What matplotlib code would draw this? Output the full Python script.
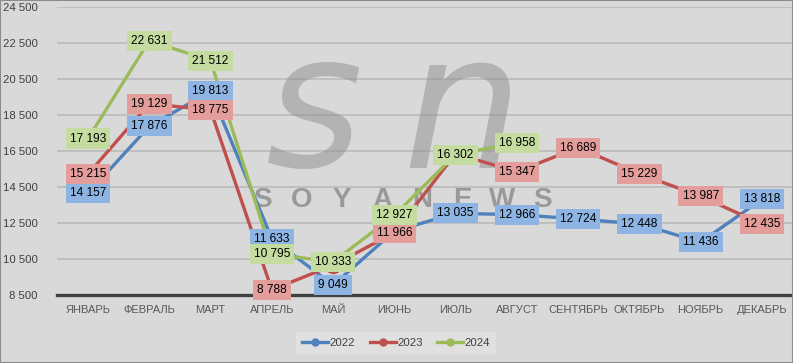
import matplotlib.pyplot as plt
import numpy as np
from matplotlib.lines import Line2D
from matplotlib.patches import Rectangle

months = ['ЯНВАРЬ', 'ФЕВРАЛЬ', 'МАРТ', 'АПРЕЛЬ', 'МАЙ', 'ИЮНЬ',
          'ИЮЛЬ', 'АВГУСТ', 'СЕНТЯБРЬ', 'ОКТЯБРЬ', 'НОЯБРЬ', 'ДЕКАБРЬ']
y2022 = [14157, 17876, 19813, 11633, 9049, 12050, 13035, 12966, 12724, 12448, 11436, 13818]
y2023 = [15215, 19129, 18775, 8788, 10150, 11966, 16350, 15347, 16689, 15229, 13987, 12435]
y2024 = [17193, 22631, 21512, 10795, 10333, 12927, 16302, 16958]
# labels that are hidden in the original (covered by other labels)
hide_2022 = [5]
hide_2023 = [4, 6]
yticks = list(range(8500, 24501, 2000))

plt.rcParams['font.family'] = ['Liberation Sans', 'DejaVu Sans']

W, H = 793, 363
fig = plt.figure(figsize=(W / 100, H / 100), dpi=100, facecolor='#d9d9d9')
ax = fig.add_axes([57.4 / W, 1 - 295 / H, 735.2 / W, 288 / H])
ax.set_facecolor('#d9d9d9')

# watermark (semi-transparent, behind the lines)
ax.text(314 / W, 1 - 166 / H, 's', transform=fig.transFigure, fontsize=134,
        style='italic', family='DejaVu Sans', color='#8e8e8e', alpha=0.5,
        ha='center', va='baseline', zorder=2)
ax.text(462 / W, 1 - 168 / H, 'n', transform=fig.transFigure, fontsize=136,
        style='italic', family='DejaVu Sans', color='#8e8e8e', alpha=0.5,
        ha='center', va='baseline', zorder=2)
for i, ch in enumerate('SOYANEWS'):
    ax.text((262 + 40 * i) / W, 1 - 200 / H, ch, transform=fig.transFigure,
            fontsize=20, weight='bold', color='#6f6f6f', alpha=0.6,
            ha='center', va='center', zorder=2)

x = np.arange(len(months))
series = [
    ('2022', y2022, '#4f81bd', '#8db4e2', hide_2022),
    ('2023', y2023, '#c0504d', '#e39d9b', hide_2023),
    ('2024', y2024, '#9bbb59', '#c4dca0', []),
]

handles = []
for name, vals, col, boxcol, hide in series:
    xs = x[:len(vals)]
    ax.plot(xs, vals, color=col, lw=2.4, zorder=3, solid_capstyle='round')
    ax.plot(xs, vals, ls='none', marker='o', ms=11.5, color=col, zorder=4)
    for i, v in enumerate(vals):
        if i in hide:
            continue
        ax.text(i, v, f'{v:,}'.replace(',', ' '), ha='center', va='center',
                fontsize=8.6, color='black', zorder=5,
                bbox=dict(boxstyle='square,pad=0.34', fc=boxcol, ec='none'))
    handles.append(Line2D([], [], color=col, lw=2.4, marker='o', ms=5, label=name))

ax.set_xlim(-0.5, 11.5)
ax.set_ylim(8500, 24500)
ax.set_xticks(x)
ax.set_xticklabels(months, fontsize=8, color='#595959')
ax.set_yticks(yticks)
ax.set_yticklabels([f'{t:,}'.replace(',', ' ') for t in yticks], fontsize=8.2, color='#404040')
ax.tick_params(axis='both', length=0)
ax.tick_params(axis='y', pad=14)
ax.tick_params(axis='x', pad=7)
ax.yaxis.grid(True, color='#bdbdbd', lw=1.3, zorder=0)
ax.set_axisbelow(True)
for s in ['top', 'right', 'left']:
    ax.spines[s].set_visible(False)
ax.spines['bottom'].set_color('#404040')
ax.spines['bottom'].set_linewidth(2.4)
ax.spines['bottom'].set_zorder(2.5)

leg = fig.legend(handles=handles, loc='center', bbox_to_anchor=(396 / W, 1 - 343 / H),
                 ncol=3, frameon=True, facecolor='#e3e3e3', edgecolor='none',
                 fontsize=8.2, handlelength=2.3, columnspacing=1.3, handletextpad=0.1,
                 borderpad=0.5, fancybox=False)
for t in leg.get_texts():
    t.set_color('#404040')

fig.patches.append(Rectangle((0, 0), 1, 1, transform=fig.transFigure, fill=False,
                             ec='#8c8c8c', lw=1.5))

fig.savefig('out.png', dpi=100, facecolor=fig.get_facecolor())
